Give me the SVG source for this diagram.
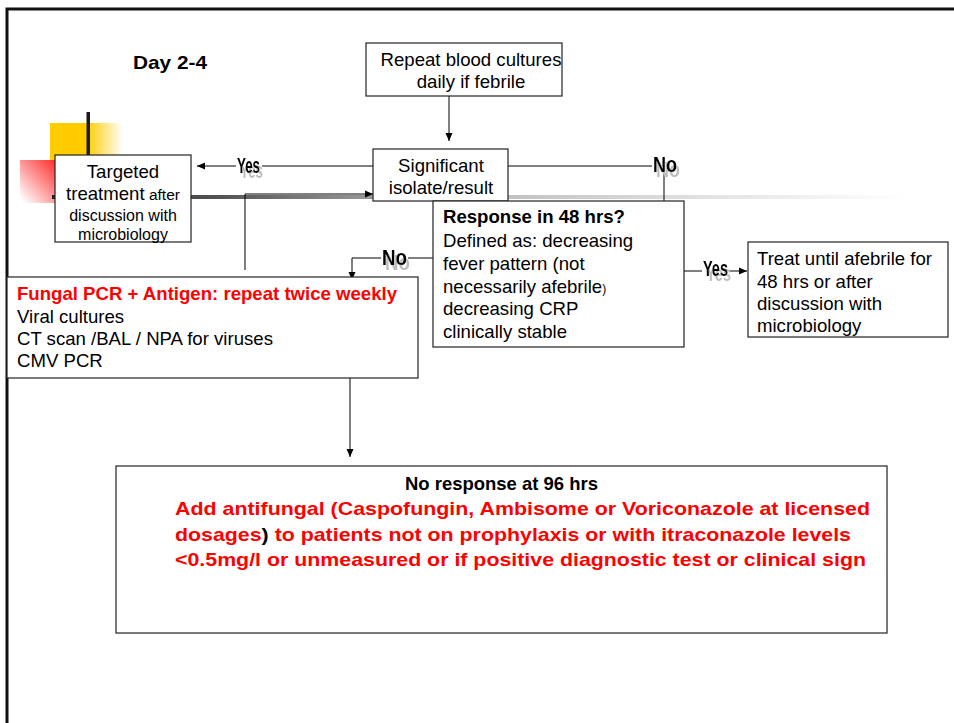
<svg xmlns="http://www.w3.org/2000/svg" width="954" height="723" viewBox="0 0 954 723">
  <defs>
    <style>
      .box { fill: #ffffff; stroke: #222222; stroke-width: 1.2; }
      .txt { font-family: "Liberation Sans", Arial, sans-serif; font-size: 18.6px; fill: #000000; }
      .sm { font-size: 16px; }
      .b { font-weight: bold; }
      .red { fill: #ff0000; }
      .conn { fill: none; stroke: #000000; stroke-width: 1; }
      .lbl { font-family: "Liberation Sans Narrow", "Liberation Sans", Arial, sans-serif; font-weight: bold; font-size: 22px; fill: #000000; filter: url(#dropShadow); }
    </style>
    <filter id="dropShadow" x="-20%" y="-20%" width="160%" height="160%">
      <feFlood flood-color="#bdbdbd" result="tint"/>
      <feComposite in="tint" in2="SourceAlpha" operator="in" result="shade"/>
      <feOffset in="shade" dx="3" dy="5" result="moved"/>
      <feMerge>
        <feMergeNode in="moved"/>
        <feMergeNode in="SourceGraphic"/>
      </feMerge>
    </filter>
    <marker id="arrow" markerUnits="userSpaceOnUse" markerWidth="9" markerHeight="8" refX="8" refY="4" orient="auto">
      <path d="M0,0.5 L8,4 L0,7.5 z" fill="#000000"/>
    </marker>
    <linearGradient id="yellowFade" x1="0" y1="0" x2="1" y2="0">
      <stop offset="0" stop-color="#ffcc00"/>
      <stop offset="0.5" stop-color="#ffcc00"/>
      <stop offset="1" stop-color="#ffcc00" stop-opacity="0"/>
    </linearGradient>
    <linearGradient id="redFade" x1="1" y1="0.1" x2="0.1" y2="1">
      <stop offset="0" stop-color="#ff2a2a"/>
      <stop offset="1" stop-color="#ff2a2a" stop-opacity="0"/>
    </linearGradient>
    <linearGradient id="barFade" gradientUnits="userSpaceOnUse" x1="52" y1="0" x2="905" y2="0">
      <stop offset="0" stop-color="#222222"/>
      <stop offset="0.2" stop-color="#555555"/>
      <stop offset="0.38" stop-color="#9a9a9a"/>
      <stop offset="0.55" stop-color="#c4c4c4"/>
      <stop offset="0.8" stop-color="#e6e6e6"/>
      <stop offset="1" stop-color="#ffffff"/>
    </linearGradient>
  </defs>

  <rect x="0" y="0" width="954" height="723" fill="#ffffff"/>

  <!-- slide frame -->
  <path d="M7,723 V9 H954" fill="none" stroke="#111111" stroke-width="3"/>

  <!-- template ornaments -->
  <rect x="50" y="123" width="73" height="37" fill="url(#yellowFade)"/>
  <rect x="20" y="160" width="40" height="43" fill="url(#redFade)"/>
  <rect x="86.5" y="112" width="3.5" height="44" fill="#1a1a1a"/>
  <rect x="52" y="195" width="853" height="4" fill="url(#barFade)"/>

  <text class="txt b" x="133" y="69" font-size="21" textLength="74" lengthAdjust="spacingAndGlyphs">Day 2-4</text>

  <!-- connectors -->
  <g id="connectors">
    <line class="conn" x1="449" y1="96" x2="449" y2="141" marker-end="url(#arrow)"/>
    <line class="conn" x1="373" y1="166" x2="197" y2="166" marker-end="url(#arrow)"/>
    <polyline class="conn" points="508,166 664,166 664,201"/>
    <polyline class="conn" points="433,258 352,258 352,280" marker-end="url(#arrow)"/>
    <line class="conn" x1="684" y1="271" x2="747" y2="271" marker-end="url(#arrow)"/>
    <polyline class="conn" points="245,270 245,194 373,194" marker-end="url(#arrow)"/>
    <line class="conn" x1="350" y1="378" x2="350" y2="457" marker-end="url(#arrow)"/>
  </g>

  <!-- nodes -->
  <g id="node-repeat">
    <rect class="box" x="366" y="43" width="196" height="53"/>
    <text class="txt" x="471" y="66" text-anchor="middle">Repeat blood cultures</text>
    <text class="txt" x="471" y="88" text-anchor="middle">daily if febrile</text>
  </g>

  <g id="node-significant">
    <rect class="box" x="373" y="149" width="135" height="52"/>
    <text class="txt" x="441" y="172" text-anchor="middle">Significant</text>
    <text class="txt" x="441" y="194" text-anchor="middle">isolate/result</text>
  </g>

  <g id="node-targeted">
    <rect class="box" x="55" y="155" width="136" height="87"/>
    <text class="txt" x="123" y="178" text-anchor="middle">Targeted</text>
    <text class="txt" x="123" y="200" text-anchor="middle">treatment<tspan font-size="15.5"> after</tspan></text>
    <text class="txt sm" x="123" y="221" text-anchor="middle">discussion with</text>
    <text class="txt sm" x="123" y="240" text-anchor="middle">microbiology</text>
  </g>

  <g id="node-response">
    <rect class="box" x="433" y="201" width="251" height="146"/>
    <text class="txt b" x="443" y="223">Response in 48 hrs?</text>
    <text class="txt" x="443" y="247">Defined as: decreasing</text>
    <text class="txt" x="443" y="270">fever pattern (not</text>
    <text class="txt" x="443" y="293">necessarily afebrile<tspan font-size="12">)</tspan></text>
    <text class="txt" x="443" y="315">decreasing CRP</text>
    <text class="txt" x="443" y="338">clinically stable</text>
  </g>

  <g id="node-treat">
    <rect class="box" x="748" y="242" width="200" height="95"/>
    <text class="txt" x="757" y="265">Treat until afebrile for</text>
    <text class="txt" x="757" y="288">48 hrs or after</text>
    <text class="txt" x="757" y="310">discussion with</text>
    <text class="txt" x="757" y="332">microbiology</text>
  </g>

  <g id="node-investigations">
    <rect class="box" x="7" y="277" width="411" height="101"/>
    <text class="txt b red" x="17" y="300">Fungal PCR + Antigen: repeat twice weekly</text>
    <text class="txt" x="17" y="323">Viral cultures</text>
    <text class="txt" x="17" y="345"> CT scan /BAL / NPA for viruses</text>
    <text class="txt" x="17" y="367">CMV PCR</text>
  </g>

  <g id="node-antifungal">
    <rect class="box" x="116" y="466" width="771" height="167"/>
    <text class="txt b" x="405" y="490" font-size="17.5" textLength="193" lengthAdjust="spacingAndGlyphs">No response at 96 hrs</text>
    <text class="txt b red" x="175" y="515" font-size="21.5" textLength="695" lengthAdjust="spacingAndGlyphs">Add antifungal (Caspofungin, Ambisome or Voriconazole at licensed</text>
    <text class="txt b red" x="175" y="541" font-size="21.5" textLength="676" lengthAdjust="spacingAndGlyphs">dosages<tspan fill="#000000">)</tspan> to patients not on prophylaxis or with itraconazole levels</text>
    <text class="txt b red" x="175" y="566" font-size="21.5" textLength="691" lengthAdjust="spacingAndGlyphs">&lt;0.5mg/l or unmeasured or if positive diagnostic test or clinical sign</text>
  </g>

  <!-- branch labels -->
  <g id="labels">
    <rect x="236" y="154" width="26" height="20" fill="#ffffff"/>
    <text class="lbl" x="237" y="173" textLength="23" lengthAdjust="spacingAndGlyphs">Yes</text>

    <rect x="652" y="154" width="27" height="18" fill="#ffffff"/>
    <text class="lbl" x="653" y="172" textLength="24" lengthAdjust="spacingAndGlyphs">No</text>

    <rect x="381" y="247" width="27" height="20" fill="#ffffff"/>
    <text class="lbl" x="382" y="265" textLength="25" lengthAdjust="spacingAndGlyphs">No</text>

    <rect x="702" y="259" width="27" height="20" fill="#ffffff"/>
    <text class="lbl" x="703" y="276" textLength="25" lengthAdjust="spacingAndGlyphs">Yes</text>
  </g>
</svg>
